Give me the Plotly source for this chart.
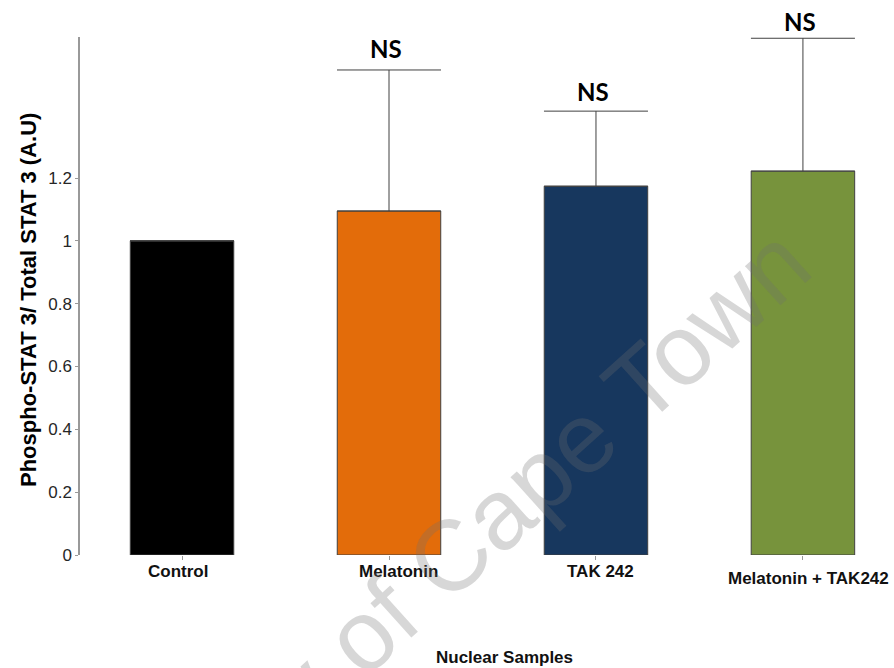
import plotly.graph_objects as go

# Nuclear phospho-STAT3 / total STAT3 ratio per treatment
categories = ["Control", "Melatonin", "TAK 242", "Melatonin + TAK242"]
means = [1.0, 1.095, 1.174, 1.222]
errors_up = [0.0, 0.449, 0.239, 0.423]
significance = ["", "NS", "NS", "NS"]
y_tickvals = [0, 0.2, 0.4, 0.6, 0.8, 1.0, 1.2]
y_ticktext = ["0", "0.2", "0.4", "0.6", "0.8", "1", "1.2"]

bar_colors = ["#000000", "#E36C0A", "#17375E", "#77933C"]
label_xshift = [-4, 9, 5, 6]
label_yshift = [-16, -16, -16, -23]
ns_yshift = [21, 21, 20, 17]

xs = list(range(len(categories)))

fig = go.Figure()
fig.add_trace(go.Bar(
    x=xs,
    y=means,
    width=0.5,
    marker=dict(color=bar_colors, line=dict(color="#404040", width=1)),
    error_y=dict(
        type="data",
        symmetric=False,
        array=errors_up,
        arrayminus=[0] * len(errors_up),
        color="#404040",
        thickness=1,
        width=52,
    ),
    showlegend=False,
))

annotations = []

# category labels under each bar
for i, name in enumerate(categories):
    annotations.append(dict(
        x=xs[i], y=0, xref="x", yref="paper",
        text=f"<b>{name}</b>", showarrow=False,
        xanchor="center", yanchor="middle",
        xshift=label_xshift[i], yshift=label_yshift[i],
        font=dict(family="Arial, Liberation Sans", size=17, color="#111111"),
    ))

# significance marks above the error bars
for i, mark in enumerate(significance):
    if not mark:
        continue
    annotations.append(dict(
        x=xs[i], y=means[i] + errors_up[i], xref="x", yref="y",
        text=f"<b>{mark}</b>", showarrow=False,
        xanchor="center", yanchor="middle",
        xshift=-3, yshift=ns_yshift[i],
        font=dict(family="Lato", size=24, color="#000000"),
    ))

# axis titles
annotations.append(dict(
    x=(28 - 80) / 814, y=(555 - 300) / 518, xref="paper", yref="paper",
    text="<b>Phospho-STAT 3/ Total STAT 3 (A.U)</b>", showarrow=False,
    textangle=-90, xanchor="center", yanchor="middle",
    font=dict(family="Arial, Liberation Sans", size=22, color="#000000"),
))
annotations.append(dict(
    x=(504 - 80) / 814, y=(555 - 657) / 518, xref="paper", yref="paper",
    text="<b>Nuclear Samples</b>", showarrow=False,
    xanchor="center", yanchor="middle",
    font=dict(family="Arial, Liberation Sans", size=17, color="#111111"),
))

# watermark
annotations.append(dict(
    x=(393 - 80) / 814, y=(555 - 607) / 518, xref="paper", yref="paper",
    text="University of Cape Town", showarrow=False,
    textangle=-42, xanchor="center", yanchor="middle",
    font=dict(family="Arial, Liberation Sans", size=100,
              color="rgba(110,110,110,0.28)"),
))

fig.update_layout(
    width=894,
    height=668,
    margin=dict(l=80, r=0, t=37, b=113),
    paper_bgcolor="white",
    plot_bgcolor="white",
    bargap=0.5,
    annotations=annotations,
    xaxis=dict(
        range=[-0.493, 3.44],
        tickvals=xs,
        showticklabels=False,
        ticks="outside",
        ticklen=4,
        tickcolor="#999999",
        showline=False,
        showgrid=False,
        zeroline=False,
    ),
    yaxis=dict(
        range=[0, 1.649],
        tickvals=y_tickvals,
        ticktext=y_ticktext,
        ticks="outside",
        ticklen=3,
        tickcolor="#999999",
        showline=True,
        linecolor="#999999",
        linewidth=1.5,
        showgrid=False,
        zeroline=False,
        tickfont=dict(family="Arial, Liberation Sans", size=17, color="#262626"),
    ),
)

fig.write_html("out.html")
